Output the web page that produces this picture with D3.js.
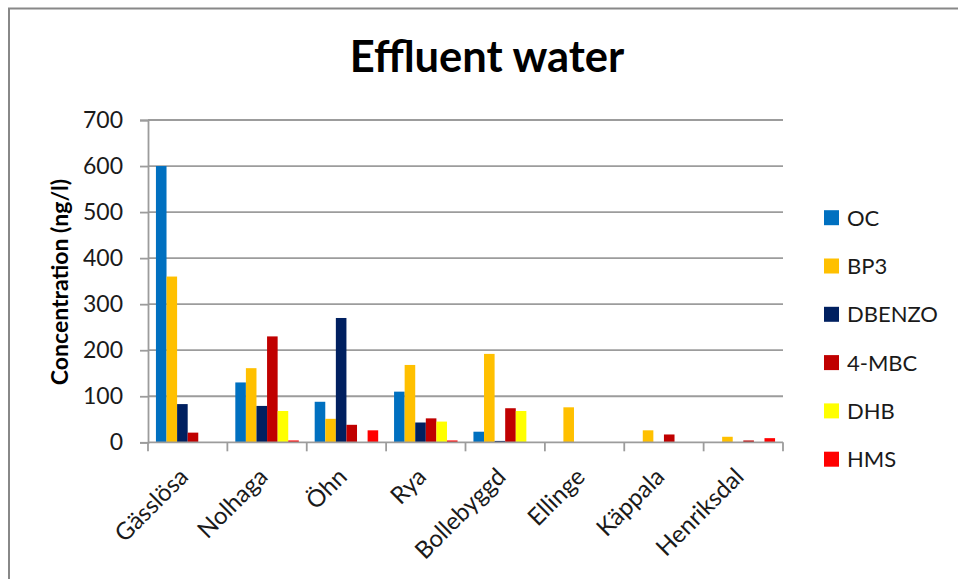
<!DOCTYPE html>
<html>
<head>
<meta charset="utf-8">
<script src="https://cdn.jsdelivr.net/npm/d3@7"></script>
<style>
  html, body { margin: 0; padding: 0; background: #fff; }
  svg { display: block; font-family: Lato, "Open Sans", sans-serif; }
</style>
</head>
<body>
<svg id="chart" width="958" height="579"></svg>
<script>
// Sewage plants (categories) and UV-filter concentrations in ng/l
const plants = ["Gässlösa", "Nolhaga", "Öhn", "Rya", "Bollebyggd", "Ellinge", "Käppala", "Henriksdal"];
const seriesNames = ["OC", "BP3", "DBENZO", "4-MBC", "DHB", "HMS"];
const seriesColors = ["#0070C0", "#FFC000", "#002060", "#C00000", "#FFFF00", "#FF0000"];

const OC     = [600, 130, 88, 110, 23, 0, 0, 0];
const BP3    = [360, 161, 51, 168, 192, 76, 26, 12];
const DBENZO = [83, 79, 270, 43, 3, 0, 0, 0];
const MBC4   = [21, 230, 38, 52, 74, 0, 17, 4];
const DHB    = [0, 68, 0, 45, 68, 0, 0, 0];
const HMS    = [0, 4, 26, 4, 0, 0, 0, 9];
const seriesValues = [OC, BP3, DBENZO, MBC4, DHB, HMS];

const yTicks = [0, 100, 200, 300, 400, 500, 600, 700];

const svg = d3.select("#chart");

// outer frame: top and left edges only
svg.append("line").attr("x1", 8).attr("x2", 958).attr("y1", 8.5).attr("y2", 8.5)
  .attr("stroke", "#888").attr("stroke-width", 2);
svg.append("line").attr("x1", 9).attr("x2", 9).attr("y1", 8).attr("y2", 579)
  .attr("stroke", "#888").attr("stroke-width", 2);

const plot = { left: 148, right: 783, top: 120, bottom: 442.3 };

const x0 = d3.scaleBand().domain(plants).range([plot.left, plot.right]).paddingInner(0).paddingOuter(0);
const x1 = d3.scaleBand().domain(seriesNames)
  .range([x0.bandwidth() * 0.1, x0.bandwidth() * 0.9]);
const y = d3.scaleLinear().domain([0, 700]).range([plot.bottom, plot.top]);

const gridColor = "#9c9c9c";
const textColor = "#1a1a1a";

// horizontal gridlines
svg.append("g").selectAll("line").data(yTicks.slice(1)).join("line")
  .attr("x1", plot.left).attr("x2", plot.right)
  .attr("y1", d => y(d)).attr("y2", d => y(d))
  .attr("stroke", gridColor).attr("stroke-width", 1.8);

// bars
const groups = svg.append("g").selectAll("g").data(plants).join("g")
  .attr("transform", d => `translate(${x0(d)},0)`);
groups.selectAll("rect")
  .data((p, i) => seriesNames.map((s, k) => ({ s, k, v: seriesValues[k][i] })))
  .join("rect")
  .attr("x", d => x1(d.s))
  .attr("width", x1.bandwidth())
  .attr("y", d => y(d.v))
  .attr("height", d => y(0) - y(d.v))
  .attr("fill", d => seriesColors[d.k]);

// y axis
const yAxis = svg.append("g").attr("transform", `translate(${plot.left},0)`)
  .call(d3.axisLeft(y).tickValues(yTicks).tickSize(8).tickPadding(17));
yAxis.select(".domain").attr("stroke", gridColor).attr("stroke-width", 1.8);
yAxis.selectAll(".tick line").attr("stroke", gridColor).attr("stroke-width", 1.8);
yAxis.selectAll(".tick text").attr("font-family", "Lato, 'Open Sans', sans-serif")
  .attr("font-size", 23).attr("fill", textColor);

// x axis with ticks on category boundaries
const xAxis = svg.append("g").attr("transform", `translate(0,${plot.bottom})`);
xAxis.append("line").attr("x1", plot.left).attr("x2", plot.right)
  .attr("stroke", gridColor).attr("stroke-width", 1.8);
const bounds = plants.map(p => x0(p)).concat([x0(plants[plants.length - 1]) + x0.bandwidth()]);
xAxis.selectAll("line.tk").data(bounds).join("line").attr("class", "tk")
  .attr("x1", d => d).attr("x2", d => d).attr("y1", 0).attr("y2", 9)
  .attr("stroke", gridColor).attr("stroke-width", 1.8);
xAxis.selectAll("text").data(plants).join("text")
  .attr("transform", d => `translate(${x0(d) + x0.bandwidth() / 2 + 2},${36}) rotate(-45)`)
  .attr("text-anchor", "end")
  .attr("font-size", 24).attr("fill", textColor)
  .text(d => d);

// titles
svg.append("text").attr("x", 487).attr("y", 72).attr("text-anchor", "middle")
  .attr("font-size", 43.5).attr("font-weight", "bold").attr("fill", "#000")
  .text("Effluent water");
svg.append("text").attr("transform", "translate(68,282) rotate(-90)")
  .attr("text-anchor", "middle").attr("font-size", 23).attr("font-weight", "bold").attr("fill", "#000")
  .text("Concentration (ng/l)");

// legend
const legend = svg.append("g").selectAll("g").data(seriesNames).join("g")
  .attr("transform", (d, i) => `translate(824,${217.7 + i * 48.3})`);
legend.append("rect").attr("x", 0).attr("y", -7.5).attr("width", 15).attr("height", 15)
  .attr("fill", (d, i) => seriesColors[i]);
legend.append("text").attr("x", 23).attr("y", 8).attr("font-size", 22).attr("fill", textColor)
  .text(d => d);
</script>
</body>
</html>
